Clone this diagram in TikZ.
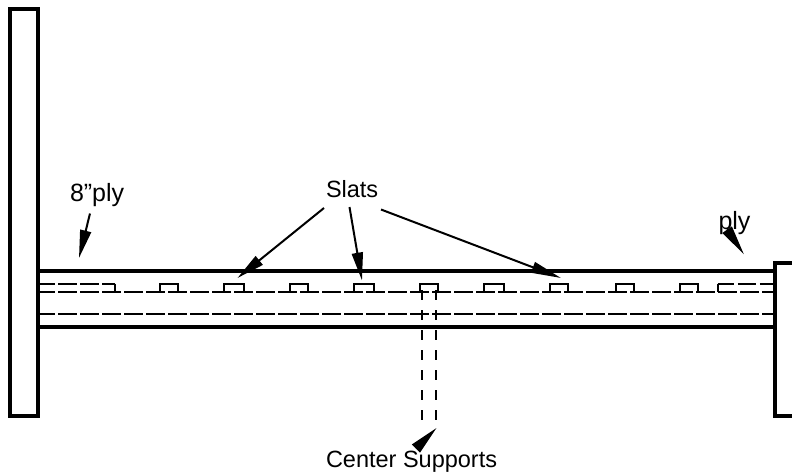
\documentclass[tikz,border=0pt]{standalone}
\usepackage{fontspec}
\setmainfont[Ligatures=NoCommon]{Liberation Sans}
\usetikzlibrary{arrows.meta}
\tikzset{
  heavy/.style={line width=3.8pt,line cap=butt,line join=miter},
  thin dash/.style={line width=2pt,dash pattern=on 18.5pt off 3.5pt},
  slat/.style={line width=2pt,line join=miter},
  support/.style={line width=2pt,dash pattern=on 10pt off 10pt},
  leader/.style={line width=2pt},
  label/.style={anchor=base west,inner sep=0pt,outer sep=0pt,font=\fontsize{23.5}{26}\selectfont},
  big label/.style={label,font=\fontsize{25}{28}\selectfont},
  wedge/.style={-{Triangle[length=#1,width=11pt,inset=0pt]}},
}
\begin{document}
\begin{tikzpicture}[x=1pt,y=-1pt]
\useasboundingbox (0,0) rectangle (792,476);
% dashed hidden lines
\draw[thin dash,dash phase=1.7pt] (38,291.5) -- (774,291.5);
\draw[thin dash,dash phase=1.7pt] (38,314) -- (774,314);
\draw[thin dash,dash phase=1.7pt] (38,283.5) -- (114.5,283.5);
\draw[thin dash,dash phase=1.7pt] (717.5,283.5) -- (774,283.5);
% slats
\draw[slat] (114.5,283.5) -- (114.5,291.5);
\draw[slat] (717.5,291.5) -- (717.5,283.5);
\foreach \a/\b in {160/178,224/243.5,289.5/308,354/374,420/438,484/504,549.5/568,615.5/634,680/698}
  \draw[slat] (\a,291.5) -- (\a,283.5) -- (\b,283.5) -- (\b,291.5);
% center supports
\draw[support] (422,290) -- (422,421);
\draw[support] (436,290) -- (436,421);
% rails and posts
\draw[heavy] (38,271.3) -- (774,271.3);
\draw[heavy] (38,327.3) -- (774,327.3);
\draw[heavy] (10,9) rectangle (38,416);
\draw[heavy] (792,263) -- (775,263) -- (775,416) -- (792,416);
% labels
\node[big label] (ply8) at (70,201.7) {8\char34 ply};
\node[label] (slats) at (326,197) {Slats};
\node[big label] (ply) at (718.5,229) {ply};
\node[label] (center) at (326,467.7) {Center Supports};
% leader ends
\coordinate (p8a) at (90,213.5);   \coordinate (p8b) at (79,258);
\coordinate (s1a) at (324,208);    \coordinate (s1b) at (237.5,278);
\coordinate (s2a) at (349.5,207);  \coordinate (s2b) at (362,280.5);
\coordinate (s3a) at (381,209.5);  \coordinate (s3b) at (561,278);
\coordinate (pya) at (727,229.5);  \coordinate (pyb) at (744,254.5);
\coordinate (cea) at (416,448.5);  \coordinate (ceb) at (436.5,428);
% leaders
\draw[leader,wedge=28pt] (p8a) -- (p8b);
\draw[leader,wedge=28pt] (s1a) -- (s1b);
\draw[leader,wedge=28pt] (s2a) -- (s2b);
\draw[leader,wedge=30pt] (s3a) -- (s3b);
\draw[leader,wedge=30pt] (pya) -- (pyb);
\draw[leader,wedge=29pt] (cea) -- (ceb);
\end{tikzpicture}
\end{document}
